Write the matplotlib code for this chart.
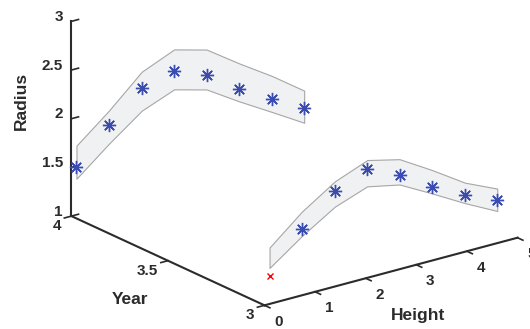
import matplotlib
matplotlib.use("Agg")
import matplotlib.pyplot as plt
import numpy as np

# Sample heights along each profile
height = [0.1, 0.74, 1.39, 2.03, 2.67, 3.31, 3.96, 4.6]

# Year 4 profile: measured radius and band limits
year_back = 4
radius_back = [1.49, 1.83, 2.12, 2.21, 2.08, 1.85, 1.65, 1.47]
band_back_hi = [1.71, 1.98, 2.29, 2.43, 2.34, 2.11, 1.89, 1.65]
band_back_lo = [1.37, 1.64, 1.89, 2.02, 1.93, 1.72, 1.52, 1.32]

# Year 3 profile: first sample flagged, rest measured
year_front = 3
radius_front = [1.29, 1.68, 1.98, 2.12, 1.97, 1.76, 1.58, 1.44]
band_front_hi = [1.58, 1.86, 2.08, 2.21, 2.13, 1.93, 1.71, 1.56]
band_front_lo = [1.37, 1.61, 1.82, 1.94, 1.87, 1.69, 1.50, 1.33]

height_ticks = [0, 1, 2, 3, 4, 5]
year_ticks = [3, 3.5, 4]
year_ticklabels = ["3", "3.5", "4"]
radius_ticks = [1, 1.5, 2, 2.5, 3]
radius_ticklabels = ["1", "1.5", "2", "2.5", "3"]

ink = "#2b2b2b"
star_color = "#3a4cb0"
band_face = "#f0f1f3"
band_edge = "#a6a6a6"

plt.rcParams["font.family"] = ["Liberation Sans", "DejaVu Sans"]
plt.rcParams["font.weight"] = "bold"

W, H = 530, 329
fig = plt.figure(figsize=(W / 100, H / 100), dpi=100)
ax = fig.add_axes([-0.1885, -0.1453, 1.4636, 1.4636], projection="3d",
                  proj_type="ortho", computed_zorder=False)
ax.view_init(elev=20.57, azim=-127.25)
ax.set_box_aspect((1.0, 1.0035, 0.6544))

for yr, hi, lo, z0 in [(year_back, band_back_hi, band_back_lo, 1),
                       (year_front, band_front_hi, band_front_lo, 3)]:
    yy = [yr] * len(height)
    ax.fill_between(height, yy, lo, height, yy, hi,
                    facecolor=band_face, edgecolor=band_edge,
                    linewidth=0.8, zorder=z0)

star = dict(linestyle="none", marker=(8, 2, 0), markersize=9.5,
            markeredgewidth=1.0, color=star_color)
ax.plot(height, [year_back] * len(height), radius_back, zorder=2, **star)
ax.plot(height[1:], [year_front] * (len(height) - 1), radius_front[1:],
        zorder=4, **star)
ax.plot(height[:1], [year_front], radius_front[:1], linestyle="none",
        marker="x", markersize=4.5, markeredgewidth=1.0, color="red",
        zorder=4)

ax.set_xlim(0, 5)
ax.set_ylim(3, 4)
ax.set_zlim(1, 3)
ax.set_xticks(height_ticks)
ax.set_xticklabels([str(t) for t in height_ticks], ha="center",
                   va="baseline")
ax.set_yticks(year_ticks)
ax.set_yticklabels(year_ticklabels, ha="right", va="center")
ax.set_zticks(radius_ticks)
ax.set_zticklabels(radius_ticklabels, ha="right", va="baseline")

ax.grid(False)
# (axis, label pad, inward tick factor, outward tick factor)
for axis, pad, t_in, t_out in ((ax.xaxis, 5.0, 0.35, 0.0),
                               (ax.yaxis, -1.0, 0.35, 0.0),
                               (ax.zaxis, -4.5, 0.0, 0.35)):
    axis.set_pane_color((1, 1, 1, 0))
    axis.pane.set_edgecolor("none")
    axis.line.set_color(ink)
    axis.line.set_linewidth(1.5)
    axis._axinfo["tick"]["color"] = ink
    axis._axinfo["tick"]["linewidth"] = {True: 1.2, False: 1.0}
    axis._axinfo["tick"]["inward_factor"] = t_in
    axis._axinfo["tick"]["outward_factor"] = t_out
    axis.set_tick_params(labelsize=11, colors=ink, pad=pad)

# Axis titles, set horizontally as on the original figure
label_style = dict(fontsize=12.5, fontweight="bold", color=ink)
fig.text(418 / W, 1 - 320 / H, "Height", ha="center", va="baseline",
         **label_style)
fig.text(130 / W, 1 - 303.5 / H, "Year", ha="center", va="baseline",
         **label_style)
fig.text(21 / W, 1 - 101 / H, "Radius", ha="center", va="center",
         rotation=90, **label_style)

fig.savefig("out.png", dpi=100)
